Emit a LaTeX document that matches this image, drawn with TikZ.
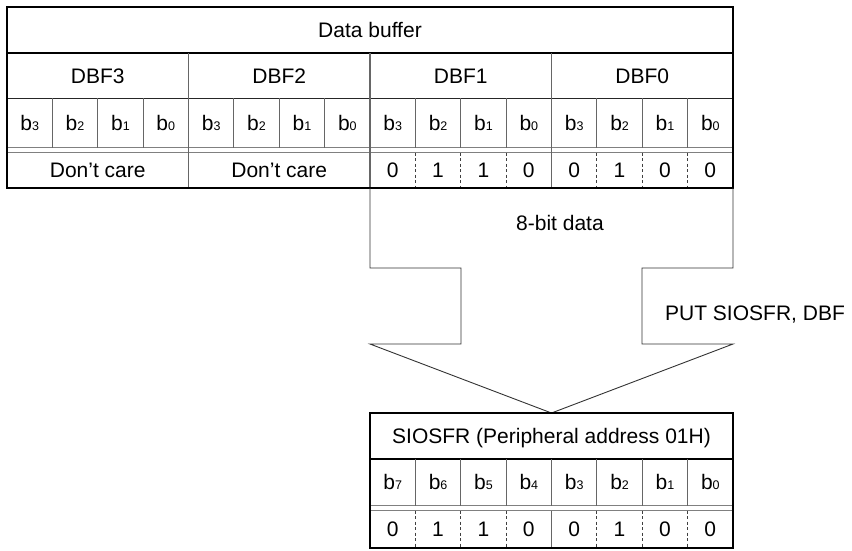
\documentclass[tikz,border=0pt]{standalone}
\usepackage{fontspec}
\setmainfont{Liberation Sans}
\newcommand\bitlab[1]{b{\fontsize{12.5}{12.5}\selectfont #1}}
\begin{document}
\begin{tikzpicture}[x=1pt,y=-1pt,
  outerline/.style={line width=2.2pt, black},
  heavysep/.style={line width=2pt, black},
  rowsep/.style={line width=1pt, black!85},
  dblsep/.style={line width=1.4pt, black!50},
  groupsep/.style={line width=1.3pt, black!60},
  bitsep/.style={line width=1pt, black!60},
  dashsep/.style={line width=0.9pt, black!75, dash pattern=on 3pt off 2.5pt},
  arrowline/.style={line width=0.9pt, black!80},
  lbl/.style={font=\fontsize{21}{25}\selectfont, inner sep=0pt, text height=15pt, text depth=0pt}
]
\useasboundingbox (0,0) rectangle (852,550);
\def\cw{45.375}
% ---------- top table (Data buffer) ----------
\draw[heavysep] (7,53) -- (733,53);
\draw[rowsep] (7,98) -- (733,98);
\draw[dblsep] (7,147.5) -- (733,147.5);
\draw[dblsep] (7,152.5) -- (733,152.5);
\foreach \g in {1,2,3}
  \draw[groupsep] ({7+4*\cw*\g},53) -- ({7+4*\cw*\g},188);
\foreach \i in {1,...,15}{
  \pgfmathtruncatemacro\r{mod(\i,4)}
  \ifnum\r=0\relax\else
    \draw[bitsep] ({7+\cw*\i},98) -- ({7+\cw*\i},147.5);
    \ifnum\i>8
      \draw[dashsep] ({7+\cw*\i},152.5) -- ({7+\cw*\i},188);
    \fi
  \fi
}
\draw[outerline] (7,7) rectangle (733,188);
\node[lbl] (dbtitle) at (370,30) {Data buffer};
\node[lbl] (dbf3) at ({7+2*\cw},75.5) {DBF3};
\node[lbl] (dbf2) at ({7+6*\cw},75.5) {DBF2};
\node[lbl] (dbf1) at ({7+10*\cw},75.5) {DBF1};
\node[lbl] (dbf0) at ({7+14*\cw},75.5) {DBF0};
\foreach \i in {0,...,15}{
  \pgfmathtruncatemacro\b{3-mod(\i,4)}
  \node[lbl] (tbit\i) at ({7+\cw*(\i+0.5)},122.5) {\bitlab{\b}};
}
\node[lbl] (dc3) at ({7+2*\cw},170) {Don’t care};
\node[lbl] (dc2) at ({7+6*\cw},170) {Don’t care};
\foreach \v [count=\k from 8] in {0,1,1,0,0,1,0,0}
  \node[lbl] (tval\k) at ({7+\cw*(\k+0.5)},170) {\v};
% ---------- arrow ----------
\coordinate (aL0) at (370,188);
\coordinate (aL1) at (370,268);
\coordinate (aL2) at (461,268);
\coordinate (aL3) at (461,344);
\coordinate (aL4) at (370,344);
\coordinate (tip) at (551.5,413);
\coordinate (aR4) at (733,344);
\coordinate (aR3) at (642,344);
\coordinate (aR2) at (642,268);
\coordinate (aR1) at (733,268);
\coordinate (aR0) at (733,188);
\draw[arrowline] (aL0) -- (aL1) -- (aL2) -- (aL3) -- (aL4) -- (tip) -- (aR4) -- (aR3) -- (aR2) -- (aR1) -- (aR0);
\node[lbl] (bitdata) at (560,223) {8-bit data};
\node[lbl] (putlbl) at (755,313) {PUT SIOSFR, DBF};
% ---------- bottom table (SIOSFR) ----------
\draw[heavysep] (370,459) -- (733,459);
\draw[dblsep] (370,505.5) -- (733,505.5);
\draw[dblsep] (370,510.5) -- (733,510.5);
\foreach \j in {1,...,7}{
  \draw[bitsep] ({370+\cw*\j},459) -- ({370+\cw*\j},505.5);
  \ifnum\j=4
    \draw[groupsep] ({370+\cw*\j},510.5) -- ({370+\cw*\j},548);
  \else
    \draw[dashsep] ({370+\cw*\j},510.5) -- ({370+\cw*\j},548);
  \fi
}
\draw[outerline] (370,413) rectangle (733,548);
\node[lbl] (sftitle) at (551.5,436) {SIOSFR (Peripheral address 01H)};
\foreach \j in {0,...,7}{
  \pgfmathtruncatemacro\b{7-\j}
  \node[lbl] (sbit\j) at ({370+\cw*(\j+0.5)},482) {\bitlab{\b}};
}
\foreach \v [count=\k from 0] in {0,1,1,0,0,1,0,0}
  \node[lbl] (sval\k) at ({370+\cw*(\k+0.5)},529) {\v};
\end{tikzpicture}
\end{document}
